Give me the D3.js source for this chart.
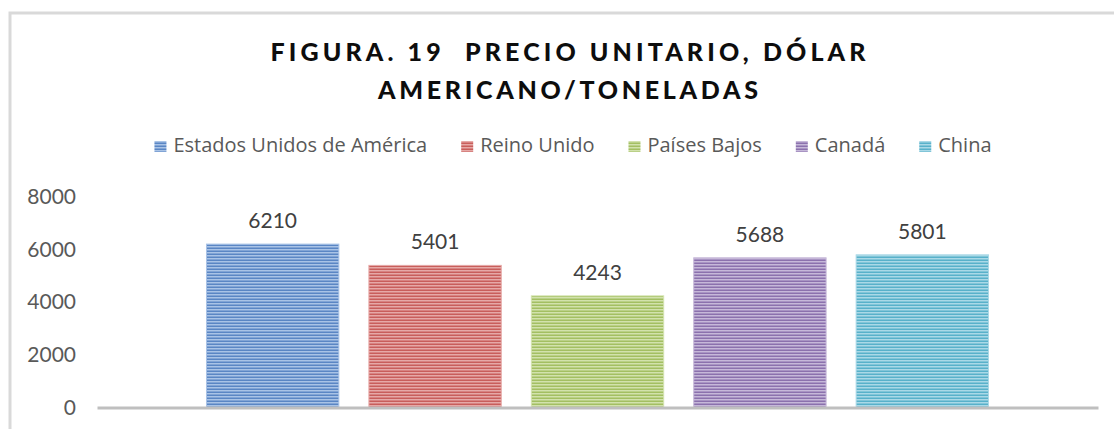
<!DOCTYPE html>
<html>
<head>
<meta charset="utf-8">
<script src="https://cdn.jsdelivr.net/npm/d3@7"></script>
<style>
  body { margin: 0; background: #fff; }
  svg { display: block; }
</style>
</head>
<body>
<svg width="1114" height="429"></svg>
<script>
const titleLines = ["FIGURA. 19  PRECIO UNITARIO, DÓLAR", "AMERICANO/TONELADAS"];
const categories = [""];
const series = ["Estados Unidos de América", "Reino Unido", "Países Bajos", "Canadá", "China"];
const values = [6210, 5401, 4243, 5688, 5801];
const darkColors = ["#5a86c4", "#c85e5b", "#a3bf62", "#8b71ad", "#58b1ca"];
const lightColors = ["#a9c3e6", "#e6a9a7", "#d2e2ad", "#c6b8d9", "#aad9e7"];
const yTicks = [0, 2000, 4000, 6000, 8000];

const svg = d3.select("svg");
const margin = {top: 197, left: 97, right: 16, bottom: 21.5};
const W = +svg.attr("width"), H = +svg.attr("height");

// chart border (top + left visible)
svg.append("path")
    .attr("d", "M10,429 V13 H1114")
    .attr("fill", "none")
    .attr("stroke", "#d9d9d9")
    .attr("stroke-width", 3);

// stripe patterns
const defs = svg.append("defs");
series.forEach((s, i) => {
    const p = defs.append("pattern")
        .attr("id", "stripe" + i)
        .attr("patternUnits", "userSpaceOnUse")
        .attr("width", 4).attr("height", 3);
    p.append("rect").attr("width", 4).attr("height", 3).attr("fill", lightColors[i]);
    p.append("rect").attr("y", 1.5).attr("width", 4).attr("height", 1.5).attr("fill", darkColors[i]);
});

// title
svg.selectAll(".title")
    .data(titleLines)
    .enter()
    .append("text")
    .attr("x", 568)
    .attr("y", (d, i) => 61 + i * 38)
    .attr("text-anchor", "middle")
    .attr("font-family", "Lato, 'Open Sans', sans-serif")
    .attr("font-weight", 900)
    .attr("font-size", 25)
    .attr("fill", "#0d0d0d")
    .attr("textLength", (d, i) => i === 0 ? 595 : 380)
    .attr("lengthAdjust", "spacing")
    .style("white-space", "pre")
    .text(d => d);

// scales
const x0 = d3.scaleBand()
    .domain(categories)
    .range([margin.left, W - margin.right])
    .paddingOuter(0.14);
const x1 = d3.scaleBand()
    .domain(series)
    .range([0, x0.bandwidth()])
    .paddingInner(0.185);
const y = d3.scaleLinear()
    .domain([0, 8000])
    .range([H - margin.bottom, margin.top]);

// y axis labels
const yaxis = svg.append("g")
    .attr("transform", "translate(82,0)")
    .call(d3.axisLeft(y).tickValues(yTicks).tickSize(0).tickPadding(6).tickFormat(d3.format("d")));
yaxis.select(".domain").remove();
yaxis.selectAll("text")
    .attr("font-family", "Lato, sans-serif")
    .attr("font-size", 21)
    .attr("fill", "#595959");

// bars
const bars = svg.append("g")
    .selectAll("g")
    .data(series.map((s, i) => ({s, v: values[i], i})))
    .enter()
    .append("g");
bars.append("rect")
    .attr("x", d => x0("") + x1(d.s))
    .attr("y", d => y(d.v))
    .attr("width", x1.bandwidth())
    .attr("height", d => y(0) - y(d.v))
    .attr("fill", d => "url(#stripe" + d.i + ")")
    .attr("stroke", d => lightColors[d.i])
    .attr("stroke-width", 1);
bars.append("text")
    .attr("x", d => x0("") + x1(d.s) + x1.bandwidth() / 2)
    .attr("y", d => y(d.v) - 16)
    .attr("text-anchor", "middle")
    .attr("font-family", "Lato, sans-serif")
    .attr("font-size", 21)
    .attr("fill", "#404040")
    .text(d => d.v);

// x axis line
const xaxis = svg.append("g")
    .attr("transform", "translate(0," + y(0) + ")")
    .call(d3.axisBottom(x0).tickSize(0).tickSizeOuter(0).tickFormat(""));
xaxis.select(".domain").attr("stroke", "#bfbfbf").attr("stroke-width", 3);
xaxis.selectAll(".tick").remove();

// legend
const legend = svg.append("g");
const items = legend.selectAll("g")
    .data(series)
    .enter()
    .append("g");
items.append("rect")
    .attr("y", 141)
    .attr("width", 12).attr("height", 11)
    .attr("fill", (d, i) => "url(#stripe" + i + ")");
items.append("text")
    .attr("x", 19)
    .attr("y", 152)
    .attr("font-family", "'Open Sans', sans-serif")
    .attr("font-size", 20)
    .attr("fill", "#595959")
    .text(d => d);
let cx = 0;
items.each(function() {
    const g = d3.select(this);
    g.attr("transform", "translate(" + cx + ",0)");
    cx += 19 + g.select("text").node().getComputedTextLength() + 34;
});
const total = cx - 34;
legend.attr("transform", "translate(" + (573 - total / 2) + ",0)");
</script>
</body>
</html>
